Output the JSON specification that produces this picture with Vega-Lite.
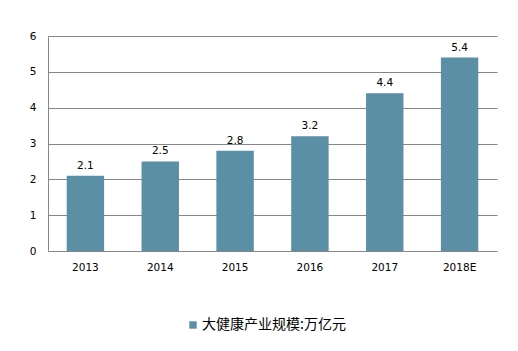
{
  "$schema": "https://vega.github.io/schema/vega-lite/v6.json",
  "width": 449,
  "height": 215,
  "autosize": {"type": "none"},
  "padding": {"left": 48, "top": 36, "right": 21, "bottom": 100},
  "background": "white",
  "data": {
    "values": [
      {"year": "2013", "value": 2.1, "series": "大健康产业规模:万亿元"},
      {"year": "2014", "value": 2.5, "series": "大健康产业规模:万亿元"},
      {"year": "2015", "value": 2.8, "series": "大健康产业规模:万亿元"},
      {"year": "2016", "value": 3.2, "series": "大健康产业规模:万亿元"},
      {"year": "2017", "value": 4.4, "series": "大健康产业规模:万亿元"},
      {"year": "2018E", "value": 5.4, "series": "大健康产业规模:万亿元"}
    ]
  },
  "config": {
    "view": {"stroke": null},
    "font": "DejaVu Sans"
  },
  "encoding": {
    "x": {
      "field": "year", "type": "nominal", "sort": null,
      "scale": {"paddingInner": 0.5, "paddingOuter": 0.25},
      "axis": {
        "title": null, "labelAngle": 0, "domain": false, "ticks": false,
        "labelFont": "DejaVu Sans", "labelFontSize": 10.5, "labelColor": "#000000",
        "labelPadding": 11
      }
    },
    "y": {
      "field": "value", "type": "quantitative",
      "scale": {"domain": [0, 6], "nice": false},
      "axis": {
        "title": null, "values": [0, 1, 2, 3, 4, 5, 6], "ticks": false,
        "domain": true, "domainColor": "#868686", "domainWidth": 1,
        "grid": true, "gridColor": "#868686", "gridWidth": 1, "gridOpacity": 1,
        "labelFont": "DejaVu Sans", "labelFontSize": 10.5, "labelColor": "#000000",
        "labelPadding": 12
      }
    }
  },
  "layer": [
    {
      "mark": {"type": "bar", "cornerRadius": 0},
      "encoding": {
        "color": {
          "field": "series", "type": "nominal",
          "scale": {"range": ["#5B8FA6"]},
          "legend": {
            "title": null, "orient": "none", "legendX": 138, "legendY": 282,
            "symbolType": "square", "symbolSize": 55, "symbolStrokeWidth": 0,
            "labelFont": "Noto Sans CJK SC", "labelFontSize": 14, "labelColor": "#000000",
            "labelOffset": 2
          }
        }
      }
    },
    {
      "mark": {"type": "text", "baseline": "bottom", "dy": -5, "font": "DejaVu Sans", "fontSize": 10.5, "color": "#000000"},
      "encoding": {
        "text": {"field": "value", "type": "quantitative", "format": ".1f"}
      }
    }
  ]
}
